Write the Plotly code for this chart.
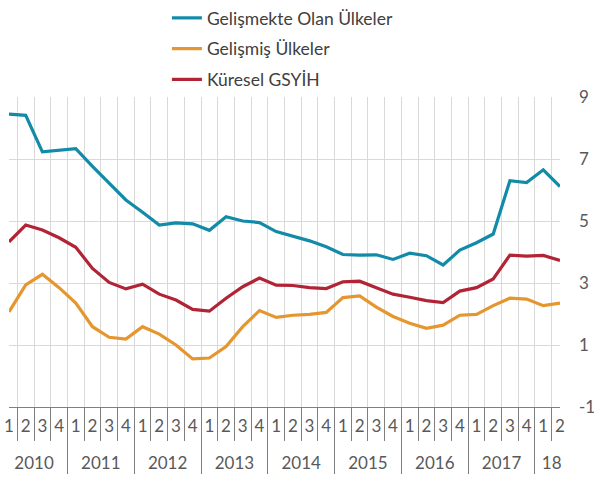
import plotly.graph_objects as go

years = ["2010", "2011", "2012", "2013", "2014", "2015", "2016", "2017", "18"]
quarters_per_year = [4, 4, 4, 4, 4, 4, 4, 4, 2]

gelismekte = [8.45, 8.41, 7.23, 7.28, 7.33, 6.76, 6.23, 5.68, 5.28, 4.87, 4.94, 4.91,
              4.70, 5.14, 5.00, 4.95, 4.66, 4.51, 4.36, 4.17, 3.92, 3.90, 3.91, 3.76,
              3.96, 3.88, 3.58, 4.06, 4.30, 4.58, 6.30, 6.24, 6.65, 6.11]
gelismis = [2.07, 2.94, 3.28, 2.85, 2.35, 1.59, 1.25, 1.19, 1.59, 1.35, 1.00, 0.55,
            0.58, 0.95, 1.59, 2.11, 1.89, 1.96, 1.99, 2.05, 2.53, 2.58, 2.22, 1.92,
            1.70, 1.54, 1.64, 1.96, 1.99, 2.27, 2.51, 2.48, 2.27, 2.35]
kuresel = [4.33, 4.87, 4.71, 4.46, 4.15, 3.47, 3.02, 2.81, 2.96, 2.64, 2.45, 2.15,
           2.09, 2.51, 2.88, 3.16, 2.93, 2.92, 2.85, 2.82, 3.04, 3.06, 2.85, 2.64,
           2.54, 2.43, 2.37, 2.74, 2.85, 3.13, 3.90, 3.87, 3.89, 3.73]
y_ticks = [-1, 1, 3, 5, 7, 9]
y_tick_text = ["-1", "1", "3", "5", "7", "9"]

# inner label gets an invisible tiny second line to push the year row lower
pad_line = "<br><span style='font-size:1px'>&nbsp;</span>"
outer, inner = [], []
for yr, n in zip(years, quarters_per_year):
    for q in range(1, n + 1):
        outer.append(yr)
        inner.append(str(q) + pad_line)
x = [outer, inner]

series = [
    ("Gelişmekte Olan Ülkeler", gelismekte, "#118BA8"),
    ("Gelişmiş Ülkeler", gelismis, "#E6962F"),
    ("Küresel GSYİH", kuresel, "#B02435"),
]

fig = go.Figure()
for i, (name, vals, col) in enumerate(series):
    fig.add_trace(go.Scatter(x=x, y=vals, mode="lines", name=name,
                             legendgroup=f"g{i}",
                             line=dict(color=col, width=3.2)))

font_fam = "Lato, 'Open Sans', sans-serif"
fig.update_layout(
    width=594, height=480,
    margin=dict(l=9, r=34, t=97, b=73, autoexpand=False),
    plot_bgcolor="white", paper_bgcolor="white",
    font=dict(family=font_fam, size=15, color="#595959"),
    showlegend=True,
    legend=dict(x=0.281, y=1.012, xref="container", yref="container",
                xanchor="left", yanchor="top",
                font=dict(size=17.5, color="#404040"),
                tracegroupgap=5, bgcolor="rgba(0,0,0,0)"),
    xaxis=dict(type="multicategory", tickson="boundaries",
               tickmode="linear", tick0=0, dtick=1, tickangle=0,
               showgrid=True, gridcolor="#D9D9D9", gridwidth=1,
               ticks="outside", ticklen=33, tickcolor="#7F7F7F",
               showline=True, linecolor="#7F7F7F", linewidth=1,
               showdividers=True, dividercolor="#7F7F7F", dividerwidth=1,
               ticklabelstandoff=4,
               tickfont=dict(size=17, color="#595959"),
               zeroline=False),
    yaxis=dict(side="right", range=[-1, 9], tickmode="array",
               tickvals=y_ticks, ticktext=y_tick_text,
               showgrid=True, gridcolor="#D9D9D9", gridwidth=1,
               zeroline=False, showline=False, ticks="",
               ticklabelstandoff=18,
               tickfont=dict(size=17, color="#595959")),
)
fig.write_html("out.html", config={"displayModeBar": False},
               post_script="document.body.style.margin='0px';")
